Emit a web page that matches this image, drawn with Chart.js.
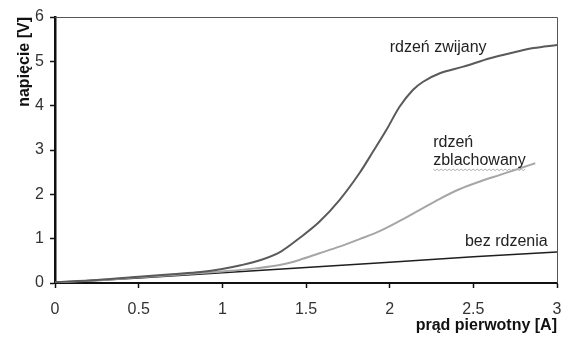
<!DOCTYPE html>
<html>
<head>
<meta charset="utf-8">
<script src="https://cdn.jsdelivr.net/npm/chart.js@4/dist/chart.umd.min.js"></script>
<style>
  html, body { margin: 0; padding: 0; background: #fff; }
  #wrap { width: 562px; height: 338px; position: relative; }
</style>
</head>
<body>
<div id="wrap"><canvas id="chart"></canvas></div>
<script>
// dane
const pradZwijany = [0, 0.25, 0.5, 0.7, 0.87, 0.99, 1.11, 1.23, 1.35, 1.46, 1.58, 1.7, 1.82, 1.9, 1.98, 2.06, 2.14, 2.2, 2.3, 2.44, 2.6, 2.74, 2.86, 3.0];
const napiecieZwijany = [0.02, 0.07, 0.14, 0.2, 0.25, 0.31, 0.4, 0.52, 0.71, 1.01, 1.38, 1.87, 2.48, 2.96, 3.45, 3.98, 4.36, 4.54, 4.73, 4.88, 5.07, 5.2, 5.3, 5.37];

const pradZblachowany = [0, 0.25, 0.5, 0.75, 1.0, 1.2, 1.35, 1.46, 1.58, 1.7, 1.82, 1.94, 2.06, 2.18, 2.3, 2.42, 2.54, 2.66, 2.78, 2.87];
const napiecieZblachowany = [0.01, 0.06, 0.13, 0.19, 0.26, 0.33, 0.41, 0.52, 0.67, 0.82, 0.99, 1.17, 1.4, 1.65, 1.9, 2.12, 2.29, 2.44, 2.59, 2.7];

const pradBez = [0, 0.5, 1, 1.5, 2, 2.5, 3];
const napiecieBez = [0, 0.115, 0.23, 0.35, 0.47, 0.59, 0.7];

// podpisy krzywych (w jednostkach osi)
const podpisy = [
  { text: 'rdzeń zwijany', x: 2.0, y: 5.3 },
  { text: 'rdzeń', x: 2.26, y: 3.16 },
  { text: 'zblachowany', x: 2.26, y: 2.75, wavy: true },
  { text: 'bez rdzenia', x: 2.45, y: 0.93 }
];

const FONT = "'Liberation Sans', Arial, sans-serif";

function punkty(xs, ys) {
  return xs.map((x, i) => ({ x: x, y: ys[i] }));
}

// ramka i podpisy
const ramkaPlugin = {
  id: 'ramka',
  afterDatasetsDraw(chart) {
    const ctx = chart.ctx;
    const a = chart.chartArea;
    const xs = chart.scales.x, ys = chart.scales.y;
    ctx.save();
    ctx.strokeStyle = '#555';
    ctx.lineWidth = 1;
    ctx.beginPath();
    ctx.moveTo(a.left, a.top + 0.5);
    ctx.lineTo(a.right + 0.5, a.top + 0.5);
    ctx.lineTo(a.right + 0.5, a.bottom);
    ctx.stroke();

    ctx.font = '16px ' + FONT;
    ctx.fillStyle = '#222';
    ctx.textBaseline = 'middle';
    ctx.textAlign = 'left';
    podpisy.forEach(p => {
      const px = xs.getPixelForValue(p.x);
      const py = ys.getPixelForValue(p.y);
      ctx.fillText(p.text, px, py);
      if (p.wavy) {
        const w = ctx.measureText(p.text).width;
        ctx.strokeStyle = '#b0b0b0';
        ctx.lineWidth = 1;
        ctx.beginPath();
        for (let i = 0; i <= w; i += 2) {
          const yy = py + 8 + (i % 4 === 0 ? 0 : 1.5);
          if (i === 0) ctx.moveTo(px + i, yy); else ctx.lineTo(px + i, yy);
        }
        ctx.stroke();
      }
    });
    ctx.restore();
  }
};

new Chart(document.getElementById('chart'), {
  type: 'line',
  data: {
    datasets: [
      {
        label: 'rdzeń zwijany',
        data: punkty(pradZwijany, napiecieZwijany),
        borderColor: '#5a5a5a',
        borderWidth: 2,
        pointRadius: 0,
        cubicInterpolationMode: 'monotone'
      },
      {
        label: 'rdzeń zblachowany',
        data: punkty(pradZblachowany, napiecieZblachowany),
        borderColor: '#a6a6a6',
        borderWidth: 2,
        pointRadius: 0,
        cubicInterpolationMode: 'monotone'
      },
      {
        label: 'bez rdzenia',
        data: punkty(pradBez, napiecieBez),
        borderColor: '#1e1e1e',
        borderWidth: 1.5,
        pointRadius: 0,
        tension: 0
      }
    ]
  },
  options: {
    responsive: true,
    maintainAspectRatio: false,
    animation: false,
    layout: { padding: { top: 17, right: 5, left: 0, bottom: 0 } },
    plugins: {
      legend: { display: false },
      tooltip: { enabled: false }
    },
    scales: {
      x: {
        type: 'linear',
        min: 0,
        max: 3,
        afterFit(s) { s.height = 55; s.paddingLeft = 0; s.paddingRight = 0; },
        ticks: {
          stepSize: 0.5,
          color: '#333',
          padding: 12,
          font: { family: FONT, size: 16 },
          maxRotation: 0,
          callback: v => String(Math.round(v * 10) / 10)
        },
        grid: { drawOnChartArea: false, drawTicks: true, tickLength: 5, tickColor: '#111', tickWidth: 1.5 },
        border: { display: true, color: '#111', width: 2 },
        title: {
          display: true,
          text: 'prąd pierwotny [A]',
          align: 'end',
          color: '#111',
          font: { family: FONT, size: 16, weight: 'bold' },
          padding: { top: 0, bottom: 3 }
        }
      },
      y: {
        min: 0,
        max: 6,
        afterFit(s) { s.width = 55; },
        ticks: {
          stepSize: 1,
          color: '#333',
          padding: 6,
          font: { family: FONT, size: 16 }
        },
        grid: { drawOnChartArea: false, drawTicks: true, tickLength: 5, tickColor: '#111', tickWidth: 1.5 },
        border: { display: true, color: '#111', width: 2.5 },
        title: {
          display: true,
          text: 'napięcie [V]',
          align: 'end',
          color: '#111',
          font: { family: FONT, size: 16, weight: 'bold' },
          padding: { top: 15, bottom: 0 }
        }
      }
    }
  },
  plugins: [ramkaPlugin]
});
</script>
</body>
</html>
